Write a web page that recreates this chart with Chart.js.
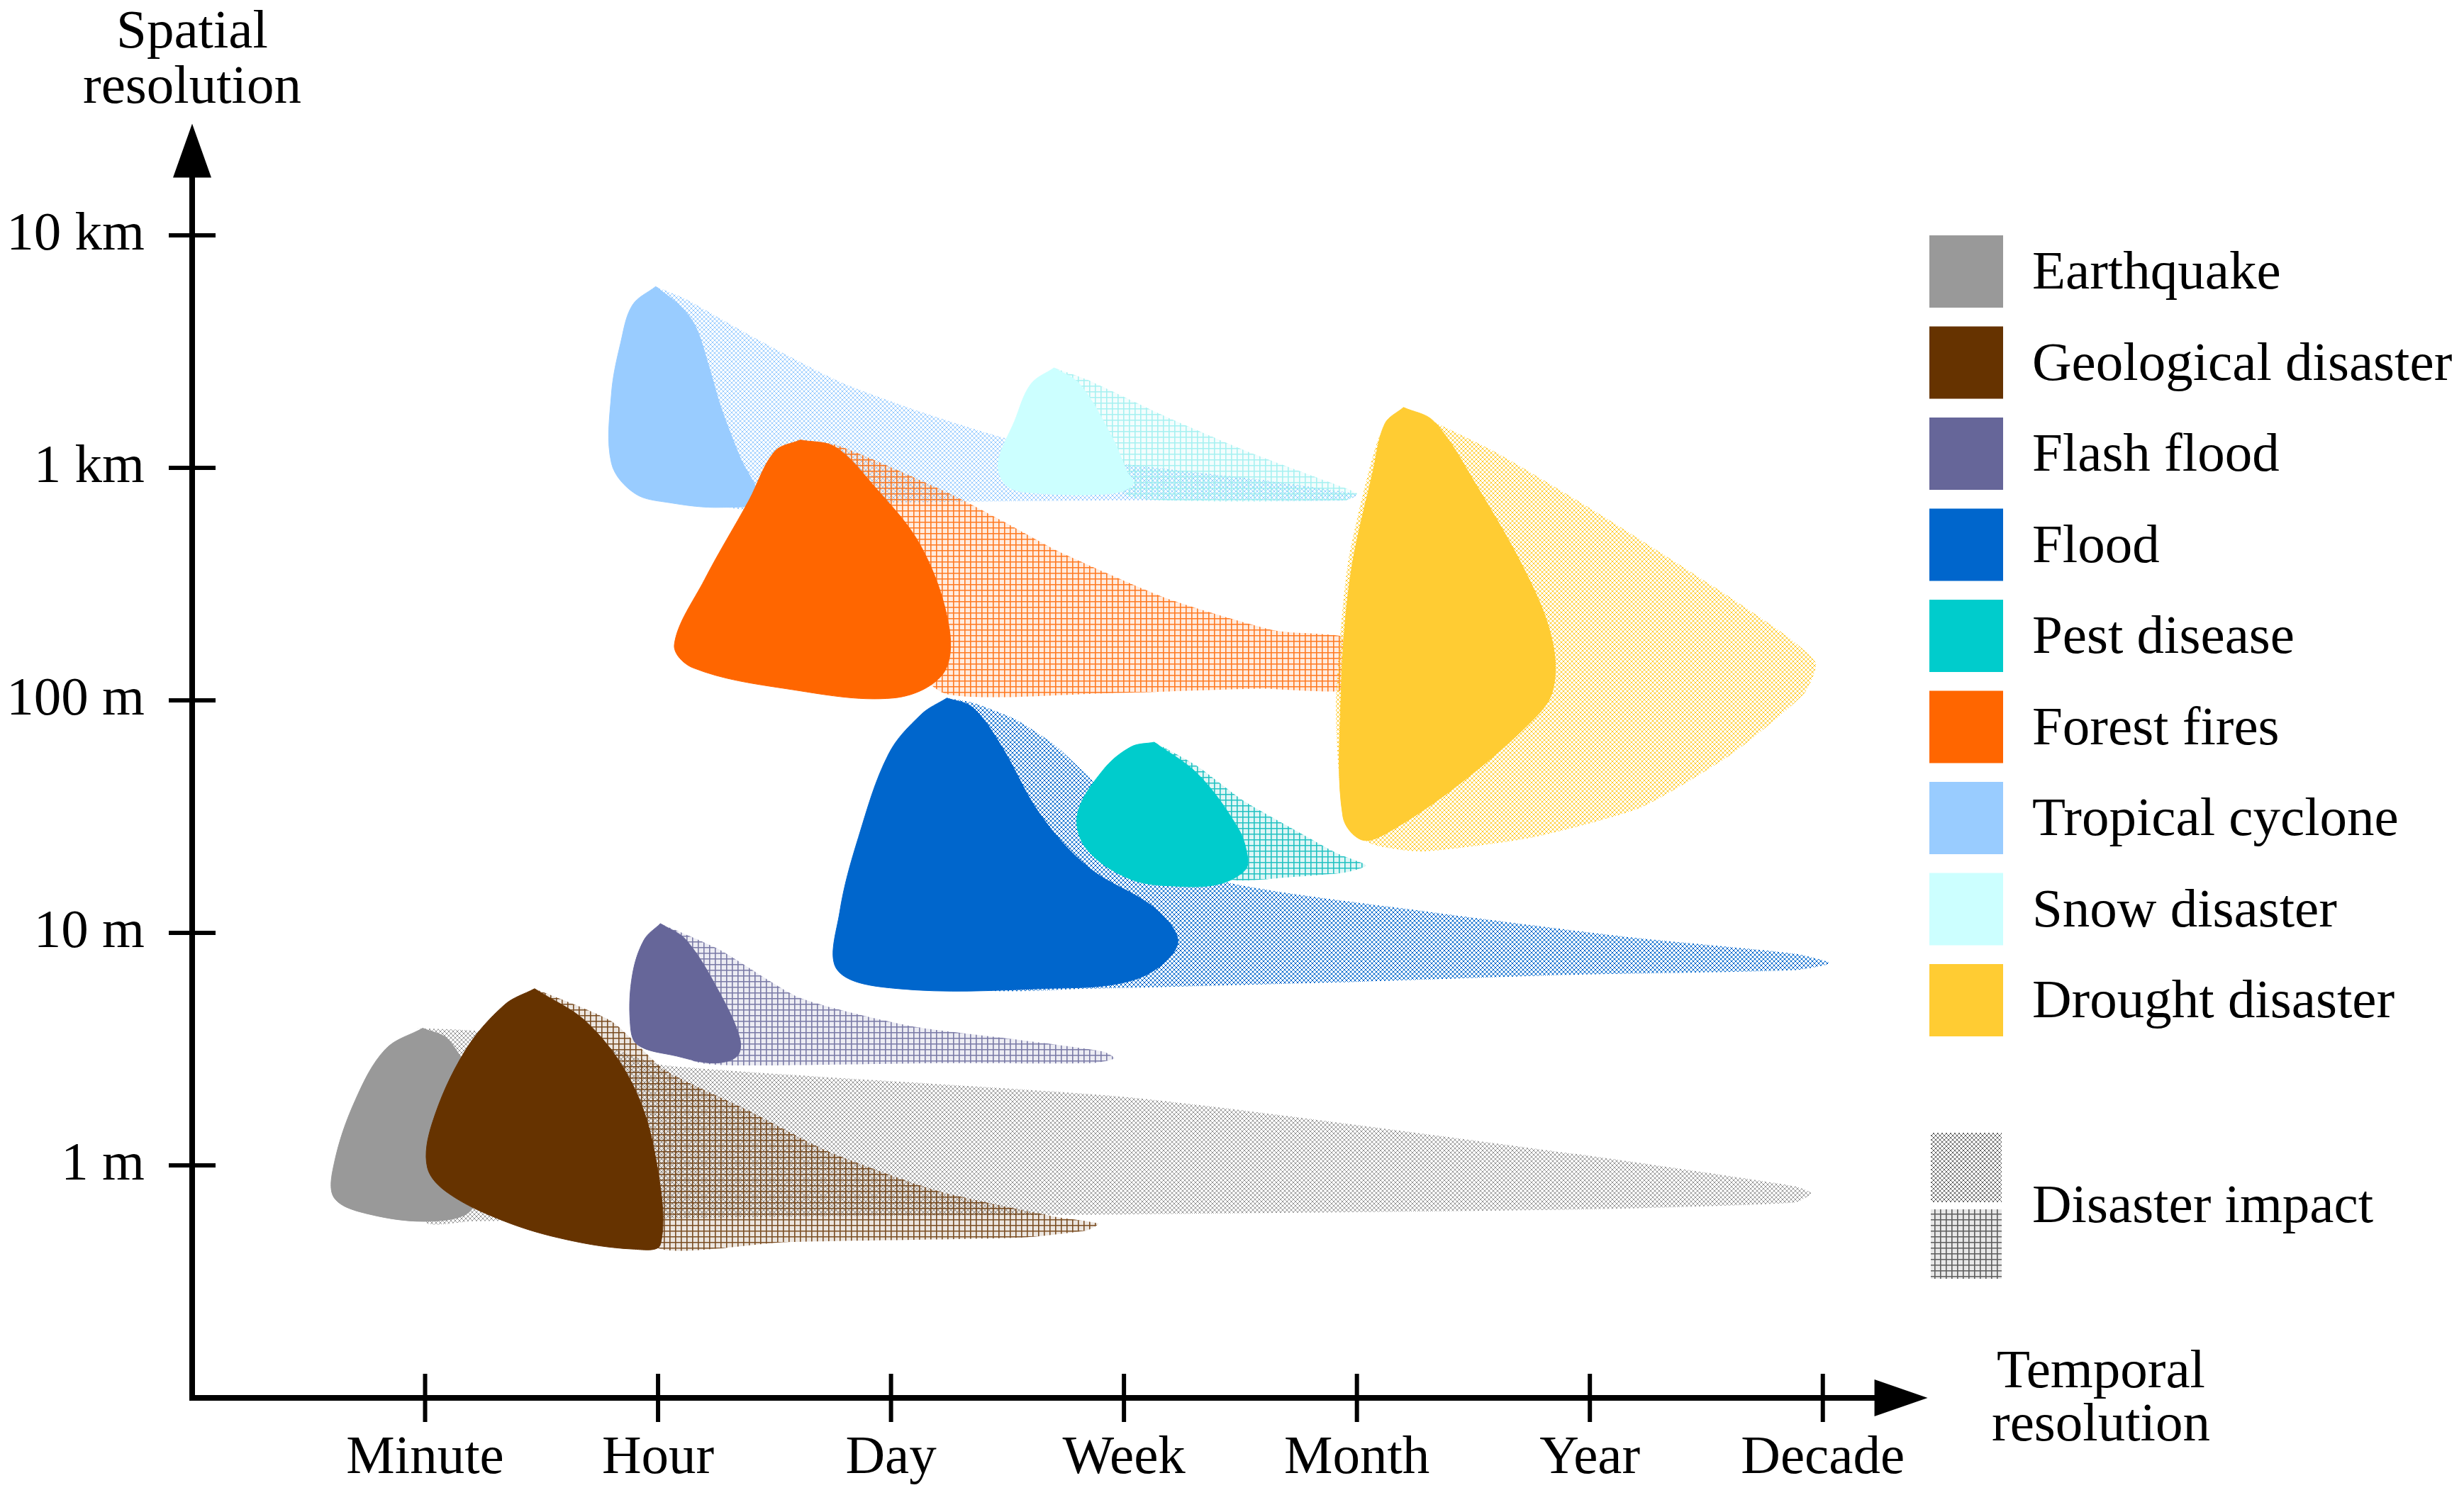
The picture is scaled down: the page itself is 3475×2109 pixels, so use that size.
<!DOCTYPE html>
<html>
<head>
<meta charset="utf-8">
<script src="https://cdn.jsdelivr.net/npm/chart.js@4.4.1/dist/chart.umd.min.js"></script>
<style>
html,body{margin:0;padding:0;background:#fff;}
#wrap{width:3475px;height:2109px;position:relative;}
</style>
</head>
<body>
<div id="wrap"><canvas id="myChart"></canvas></div>
<script>
// axis categories
const timeLabels = ['Minute', 'Hour', 'Day', 'Week', 'Month', 'Year', 'Decade'];
const spaceLabels = ['1 m', '10 m', '100 m', '1 km', '10 km'];

// disasters (legend order)
const disasterNames = ['Earthquake', 'Geological disaster', 'Flash flood', 'Flood', 'Pest disease',
  'Forest fires', 'Tropical cyclone', 'Snow disaster', 'Drought disaster'];
const disasterColors = ['#999999', '#663300', '#666699', '#0066cc', '#00cccc',
  '#ff6600', '#99ccff', '#ccffff', '#ffcc33'];
const impactColors = ['#999999', '#663300', '#666699', '#0066cc', '#00b8b8',
  '#ff6600', '#99ccff', '#99eeee', '#ffcc33'];
const impactHatch = ['mesh', 'grid', 'grid', 'mesh', 'grid', 'grid', 'mesh', 'grid', 'mesh'];

// outlines, x = temporal (1 = Minute ... 7 = Decade), y = spatial (1 = 1 m ... 5 = 10 km)
const earthquakeCore = [[0.99,1.59],[1.10,1.54],[1.20,1.35],[1.24,1.01],[1.20,0.81],[1.03,0.76],[0.76,0.79],[0.61,0.86],[0.61,1.01],[0.70,1.28],[0.83,1.50],[0.99,1.59]];
const earthquakeImpact = [[0.97,1.59],[1.20,1.58],[1.74,1.52],[2.03,1.43],[4.05,1.29],[5.93,1.05],[6.88,0.91],[6.95,0.88],[6.88,0.84],[5.93,0.81],[4.05,0.79],[2.55,0.78],[1.20,0.76],[1.00,0.76],[0.97,1.59]];
const geologicalCore = [[1.47,1.76],[1.70,1.61],[1.89,1.35],[1.99,1.03],[2.01,0.66],[1.89,0.64],[1.61,0.68],[1.34,0.76],[1.10,0.88],[1.01,0.99],[1.03,1.18],[1.17,1.49],[1.34,1.69],[1.47,1.76]];
const geologicalImpact = [[1.47,1.76],[1.80,1.62],[2.03,1.41],[2.38,1.24],[2.73,1.06],[3.20,0.89],[3.70,0.78],[3.89,0.75],[3.84,0.72],[3.57,0.69],[2.55,0.67],[2.01,0.64],[1.81,0.88],[1.61,1.55],[1.47,1.76]];
const flashCore = [[2.01,2.04],[2.12,1.97],[2.26,1.75],[2.35,1.55],[2.34,1.47],[2.24,1.44],[2.08,1.47],[1.91,1.52],[1.88,1.62],[1.89,1.82],[1.94,1.97],[2.01,2.04]];
const flashImpact = [[2.01,2.04],[2.26,1.93],[2.61,1.72],[3.08,1.60],[3.55,1.54],[3.91,1.49],[3.96,1.46],[3.87,1.44],[3.23,1.44],[2.35,1.43],[2.15,1.45],[2.01,1.62],[2.01,2.04]];
const floodCore = [[3.24,3.01],[3.35,2.97],[3.47,2.81],[3.64,2.51],[3.85,2.28],[4.14,2.10],[4.23,1.95],[4.05,1.80],[3.64,1.76],[3.03,1.76],[2.77,1.84],[2.78,2.09],[2.86,2.41],[2.99,2.77],[3.13,2.94],[3.24,3.01]];
const floodImpact = [[3.24,3.01],[3.35,2.99],[3.53,2.92],[3.70,2.81],[3.91,2.61],[4.11,2.40],[4.43,2.22],[5.31,2.09],[6.18,1.98],[6.88,1.91],[7.03,1.87],[6.88,1.84],[5.93,1.82],[5.01,1.79],[3.84,1.76],[3.36,1.76],[3.09,1.96],[3.16,2.84],[3.24,3.01]];
const pestCore = [[4.13,2.82],[4.32,2.68],[4.49,2.45],[4.53,2.33],[4.52,2.27],[4.41,2.21],[4.24,2.20],[4.03,2.23],[3.84,2.36],[3.80,2.51],[3.91,2.70],[4.03,2.80],[4.13,2.82]];
const pestImpact = [[4.13,2.82],[4.31,2.72],[4.51,2.57],[4.72,2.45],[4.92,2.34],[5.04,2.29],[4.95,2.26],[4.72,2.24],[4.45,2.23],[4.31,2.36],[4.18,2.64],[4.13,2.82]];
const forestCore = [[2.61,4.12],[2.76,4.09],[2.92,3.93],[3.13,3.66],[3.25,3.31],[3.22,3.11],[3.01,3.01],[2.55,3.05],[2.15,3.14],[2.07,3.24],[2.20,3.52],[2.39,3.86],[2.50,4.07],[2.61,4.12]];
const forestImpact = [[2.61,4.12],[2.76,4.10],[2.96,4.02],[3.25,3.89],[3.50,3.76],[3.72,3.64],[4.18,3.44],[4.65,3.30],[4.99,3.26],[4.99,3.05],[4.58,3.05],[3.91,3.03],[3.23,3.03],[2.96,3.31],[2.69,3.99],[2.61,4.12]];
const cycloneCore = [[1.99,4.78],[2.09,4.70],[2.16,4.61],[2.22,4.43],[2.27,4.26],[2.35,4.05],[2.43,3.86],[2.27,3.83],[2.05,3.85],[1.90,3.89],[1.80,4.02],[1.80,4.32],[1.84,4.54],[1.89,4.70],[1.99,4.78]];
const cycloneImpact = [[1.99,4.78],[2.11,4.73],[2.43,4.55],[2.78,4.37],[3.13,4.24],[3.48,4.13],[3.91,4.03],[4.58,3.95],[4.99,3.89],[5.00,3.88],[4.95,3.86],[3.91,3.86],[2.89,3.85],[2.28,3.84],[2.15,4.32],[1.99,4.78]];
const snowCore = [[3.70,4.43],[3.81,4.36],[3.95,4.13],[4.01,3.99],[4.04,3.93],[3.95,3.89],[3.64,3.89],[3.50,3.92],[3.46,4.02],[3.53,4.20],[3.60,4.36],[3.70,4.43]];
const snowImpact = [[3.70,4.43],[3.84,4.38],[4.18,4.22],[4.53,4.07],[4.85,3.95],[5.00,3.89],[4.95,3.86],[4.04,3.87],[3.91,3.99],[3.70,4.43]];
const droughtCore = [[5.20,4.26],[5.33,4.20],[5.51,3.93],[5.74,3.52],[5.84,3.25],[5.84,3.04],[5.75,2.91],[5.44,2.64],[5.13,2.43],[5.02,2.40],[4.94,2.50],[4.93,2.97],[4.97,3.52],[5.07,3.99],[5.12,4.19],[5.20,4.26]];
const droughtImpact = [[5.20,4.26],[5.59,4.07],[6.06,3.79],[6.53,3.49],[6.84,3.28],[6.97,3.16],[6.92,3.03],[6.61,2.77],[6.22,2.54],[5.75,2.41],[5.28,2.35],[5.07,2.38],[4.95,2.47],[4.91,2.97],[4.96,3.58],[5.09,4.12],[5.20,4.26]];

const coreShapes = [earthquakeCore, geologicalCore, flashCore, floodCore, pestCore, forestCore, cycloneCore, snowCore, droughtCore];
const impactShapes = [earthquakeImpact, geologicalImpact, flashImpact, floodImpact, pestImpact, forestImpact, cycloneImpact, snowImpact, droughtImpact];

// back to front
const drawOrder = [['impact',0],['core',0],['impact',1],['core',1],['impact',2],['core',2],
  ['impact',6],['impact',7],['core',6],['core',7],['impact',5],['core',5],
  ['impact',3],['core',3],['impact',4],['core',4],['impact',8],['core',8]];

function makePattern(color, kind) {
  const c = document.createElement('canvas');
  const s = kind === 'grid' ? 8 : 6;
  c.width = s; c.height = s;
  const g = c.getContext('2d');
  g.strokeStyle = color;
  if (kind === 'grid') {
    g.globalAlpha = 0.12; g.fillStyle = color; g.fillRect(0, 0, s, s);
    g.globalAlpha = 0.85; g.lineWidth = 1.6;
    g.beginPath();
    g.moveTo(0, 0.8); g.lineTo(s, 0.8);
    g.moveTo(0.8, 0); g.lineTo(0.8, s);
    g.stroke();
  } else {
    g.lineWidth = 1;
    g.beginPath();
    g.moveTo(-1, -1); g.lineTo(s + 1, s + 1);
    g.moveTo(-1, s + 1); g.lineTo(s + 1, -1);
    g.stroke();
  }
  return g.createPattern(c, 'repeat');
}

const toPts = arr => arr.map(p => ({x: p[0], y: p[1]}));

const datasets = drawOrder.map(([kind, i], k) => {
  const isCore = kind === 'core';
  return {
    label: disasterNames[i] + (isCore ? '' : ' impact'),
    data: toPts(isCore ? coreShapes[i] : impactShapes[i]),
    backgroundColor: isCore ? disasterColors[i] : makePattern(impactColors[i], impactHatch[i]),
    borderColor: isCore ? disasterColors[i] : 'rgba(0,0,0,0)',
    borderWidth: isCore ? 1 : 0,
    fill: 'shape',
    tension: isCore ? 0.35 : 0.2,
    pointRadius: 0,
    order: 100 - k
  };
});

const FONT = '"Liberation Serif", "Times New Roman", serif';

const decor = {
  id: 'decor',
  afterDraw(chart) {
    const {ctx, scales: {x, y}} = chart;
    const ox = x.getPixelForValue(0), oy = y.getPixelForValue(0);
    const yTip = y.getPixelForValue(5.48), xTip = x.getPixelForValue(7.45);
    ctx.save();
    ctx.strokeStyle = '#000'; ctx.fillStyle = '#000';
    ctx.lineWidth = 8;
    ctx.beginPath();
    ctx.moveTo(ox, oy + 4); ctx.lineTo(ox, yTip + 70);
    ctx.moveTo(ox - 4, oy); ctx.lineTo(xTip - 70, oy);
    ctx.stroke();
    ctx.beginPath();
    ctx.moveTo(ox, yTip); ctx.lineTo(ox - 27, yTip + 76); ctx.lineTo(ox + 27, yTip + 76); ctx.closePath(); ctx.fill();
    ctx.beginPath();
    ctx.moveTo(xTip, oy); ctx.lineTo(xTip - 75, oy - 26); ctx.lineTo(xTip - 75, oy + 26); ctx.closePath(); ctx.fill();
    ctx.lineWidth = 6;
    timeLabels.forEach((_, i) => {
      const px = x.getPixelForValue(i + 1);
      ctx.beginPath(); ctx.moveTo(px, oy - 34); ctx.lineTo(px, oy + 34); ctx.stroke();
    });
    spaceLabels.forEach((_, i) => {
      const py = y.getPixelForValue(i + 1);
      ctx.beginPath(); ctx.moveTo(ox - 33, py); ctx.lineTo(ox + 33, py); ctx.stroke();
    });

    ctx.font = '77px ' + FONT;
    ctx.textAlign = 'center'; ctx.textBaseline = 'alphabetic';
    ctx.fillText('Spatial', ox, 67);
    ctx.fillText('resolution', ox, 145);
    ctx.fillText('Temporal', 2963, 1957);
    ctx.fillText('resolution', 2963, 2032);

    // legend
    ctx.textAlign = 'left';
    disasterNames.forEach((name, i) => {
      const cy = 383 + i * 128.5;
      ctx.fillStyle = disasterColors[i];
      ctx.fillRect(2721, cy - 51, 104, 102);
      ctx.fillStyle = '#000';
      ctx.fillText(name, 2866, cy + 24);
    });
    ctx.fillStyle = makePattern('#666666', 'mesh');
    ctx.fillRect(2723, 1598, 100, 98);
    ctx.fillStyle = makePattern('#444444', 'grid');
    ctx.fillRect(2723, 1706, 100, 98);
    ctx.fillStyle = '#000';
    ctx.fillText('Disaster impact', 2866, 1724);
    ctx.restore();
  }
};

const ctx = document.getElementById('myChart').getContext('2d');
new Chart(ctx, {
  type: 'line',
  data: {datasets: datasets},
  options: {
    responsive: true,
    maintainAspectRatio: false,
    animation: false,
    events: [],
    layout: {padding: {left: 0, right: 740, top: 168, bottom: 0}},
    plugins: {legend: {display: false}, tooltip: {enabled: false}},
    scales: {
      x: {
        type: 'linear', min: 0, max: 7.5,
        grid: {display: false, drawTicks: false}, border: {display: false},
        afterFit: s => { s.height = 137; },
        afterBuildTicks: s => { s.ticks = timeLabels.map((_, i) => ({value: i + 1})); },
        ticks: {
          autoSkip: false, maxRotation: 0, padding: 40, color: '#000',
          font: {family: FONT, size: 77},
          callback: v => timeLabels[v - 1] || ''
        }
      },
      y: {
        type: 'linear', min: 0, max: 5.5,
        grid: {display: false, drawTicks: false}, border: {display: false},
        afterFit: s => { s.width = 271; },
        afterBuildTicks: s => { s.ticks = spaceLabels.map((_, i) => ({value: i + 1})); },
        ticks: {
          autoSkip: false, padding: 67, color: '#000',
          font: {family: FONT, size: 77},
          callback: v => spaceLabels[v - 1] || ''
        }
      }
    }
  },
  plugins: [decor]
});
</script>
</body>
</html>
